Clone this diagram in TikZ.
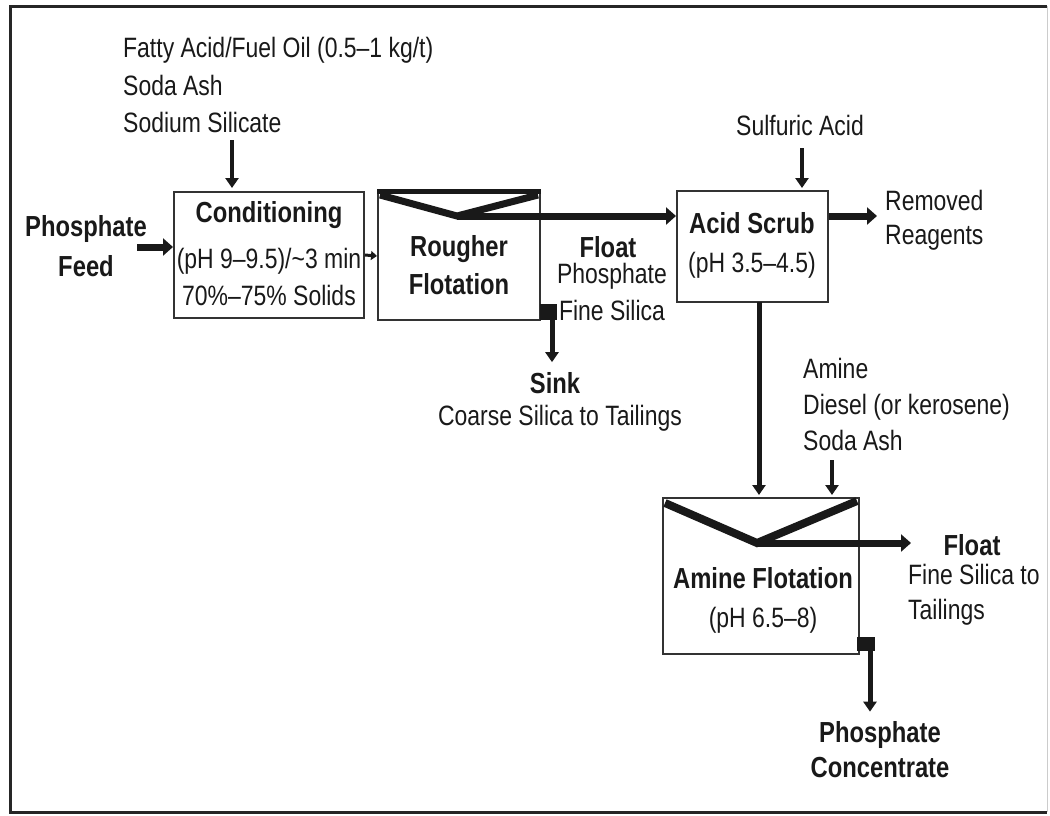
\documentclass[tikz,border=0pt]{standalone}
\usepackage{fontspec}
\setmainfont{Liberation Sans}[FakeStretch=0.82]
\usetikzlibrary{arrows.meta}
\begin{document}
\begin{tikzpicture}[x=1pt,y=-1pt,
  every node/.style={font=\fontsize{28}{36}\selectfont, text=black!90, inner sep=0pt},
  sp/.style={font=\fontsize{28}{#1}\selectfont},
  bold/.style={font=\fontsize{29}{#1}\selectfont\bfseries},
  bold/.default=37,
  box/.style={draw=black!80, line width=2pt},
  lbl/.style={align=left},
  ctr/.style={align=center},
  flow/.style={draw=black!90, line width=7pt, -{Triangle[length=10pt,width=17pt]}},
  vflow/.style={draw=black!90, line width=5pt, -{Triangle[length=10pt,width=13pt]}},
  dflow/.style={draw=black!90, line width=4pt, -{Triangle[length=10pt,width=13pt]}},
  tiny/.style={draw=black!90, line width=3pt, -{Triangle[length=6pt,width=9pt]}},
  vee/.style={draw=black!90, line width=7pt, line join=miter}
]
\useasboundingbox (0,0) rectangle (1050,815);
% frame
\draw[line width=3pt, black!85] (1047,6) -- (10,6) -- (10,812) -- (1047,812);
\draw[line width=1pt, black!20] (1047,6) -- (1047,812);

% process boxes
\node[box, minimum width=190, minimum height=126] (cond) at (269,255) {};
\node[box, minimum width=162, minimum height=128] (rough) at (459,256) {};
\node[box, minimum width=151, minimum height=111] (acid) at (752.5,246.5) {};
\node[box, minimum width=196, minimum height=156] (amine) at (761,576) {};

% texts
\node[lbl, anchor=west, sp=37.5] (reag1) at (123,85) {Fatty Acid/Fuel Oil (0.5–1 kg/t)\\Soda Ash\\Sodium Silicate};
\node[bold=40, ctr] (feed) at (86,246) {Phosphate\\Feed};
\node[bold] (condt) at (269,215) {Conditioning};
\node (condp) at (269,261) {(pH 9–9.5)/\textasciitilde3 min};
\node (conds) at (269,295) {70\%–75\% Solids};
\node[bold=38, ctr] (rought) at (459,265) {Rougher\\Flotation};
\node[bold] (floatr) at (608,247) {Float};
\node[ctr, sp=37] (floatrt) at (612,292) {Phosphate\\Fine Silica};
\node[bold] (sink) at (555,383) {Sink};
\node (sinkt) at (560,418) {Coarse Silica to Tailings};
\node (sulf) at (800,125) {Sulfuric Acid};
\node[bold] (acidt) at (752,223) {Acid Scrub};
\node (acidp) at (752,265) {(pH 3.5–4.5)};
\node[lbl, anchor=west, sp=34] (removed) at (885,220) {Removed\\Reagents};
\node[lbl, anchor=west, sp=36] (amreag) at (803,404) {Amine\\Diesel (or kerosene)\\Soda Ash};
\node[bold] (aminet) at (763,578) {Amine Flotation};
\node (aminep) at (763,620) {(pH 6.5–8)};
\node[bold] (floata) at (972,545) {Float};
\node[lbl, anchor=west, sp=35] (floatat) at (908,595) {Fine Silica to\\Tailings};
\node[bold=35, ctr] (conc) at (880,750) {Phosphate\\Concentrate};

% coordinates
\coordinate (feedout) at (137,247);
\coordinate (r1) at (232,140);
\coordinate (rapex) at (457,216);
\coordinate (sulfout) at (802,148);
\coordinate (adown) at (759,302);
\coordinate (aapex) at (757,543);
\coordinate (amrout) at (832,460);
\coordinate (sinkbend) at (552,312);
\coordinate (concbend) at (870,644);

% connectors
\draw[flow] (feedout) -- (feedout -| cond.west);
\draw[dflow, shorten >=3pt] (r1) -- (r1 |- cond.north);
\draw[tiny] (cond.east) -- (rough.west);

% rougher V and top
\draw[line width=5pt, black!90] (rough.north west) -- (rough.north east);
\draw[vee] (380,195) -- (rapex) -- (538,195);
\draw[flow] (rapex) -- (rapex -| acid.west);

% sink
\fill[black!90] (540,304) rectangle (557,320);
\draw[vflow, shorten >=10pt] (sinkbend) -- (sinkbend |- sink.north);

% acid scrub
\draw[dflow, shorten >=2pt] (sulfout) -- (sulfout |- acid.north);
\draw[flow] (acid.east |- rapex) -- ++(48,0) coordinate (remend);
\draw[vflow, shorten >=2pt] (adown) -- (adown |- amine.north);

% amine
\draw[dflow, shorten >=2pt] (amrout) -- (amrout |- amine.north);
\draw[vee, line width=8pt] (665,503) -- (aapex) -- (857,501);
\draw[flow] (aapex) -- ++(154,0) coordinate (afloatend);
\fill[black!90] (857,637) rectangle (875,651);
\draw[vflow, shorten >=10pt] (concbend) -- (concbend |- conc.north);
\end{tikzpicture}
\end{document}
